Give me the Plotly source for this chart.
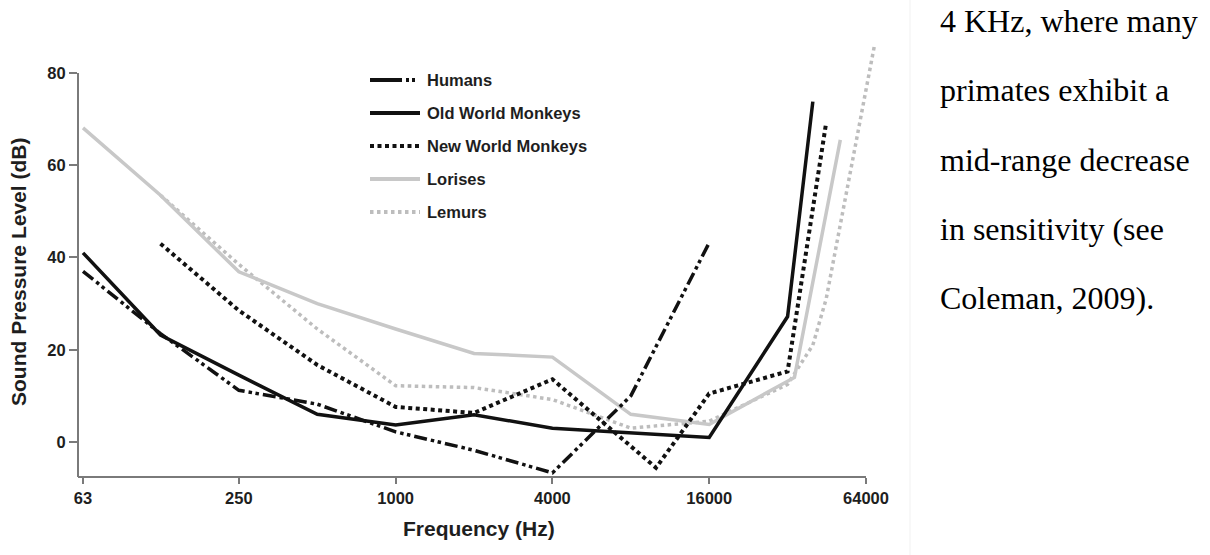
import plotly.graph_objects as go
import math

# ---------------- data ----------------
series_names = ["Humans", "Old World Monkeys", "New World Monkeys", "Lorises", "Lemurs"]

humans_hz = [63, 125, 250, 500, 1000, 2000, 4000, 8000, 16000]
humans_db = [37, 23.5, 11.2, 8.2, 2.2, -1.8, -6.7, 10, 43.2]

old_world_hz = [63, 125, 250, 500, 1000, 2000, 4000, 8000, 16000, 32000, 40000]
old_world_db = [41, 23.2, 14.5, 6.0, 3.7, 5.9, 3.0, 2.0, 1.0, 27.2, 73.8]

new_world_hz = [125, 250, 500, 1000, 2000, 4000, 10000, 16000, 32000, 45000]
new_world_db = [43, 28.5, 16.7, 7.6, 6.3, 13.6, -5.6, 10.5, 15.3, 69.2]

lorises_hz = [63, 125, 250, 500, 1000, 2000, 4000, 8000, 16000, 34000, 51000]
lorises_db = [68.1, 53.5, 36.9, 30, 24.5, 19.2, 18.4, 6.0, 3.8, 14, 65.5]

lemurs_hz = [125, 250, 500, 1000, 2000, 4000, 8000, 16000, 32000, 40000, 45000, 69000]
lemurs_db = [53.5, 38.5, 24.5, 12.2, 11.8, 9.2, 3.0, 4.5, 12.5, 21, 31, 86]

x_tick_vals = [63, 250, 1000, 4000, 16000, 64000]
x_tick_text = ["63", "250", "1000", "4000", "16000", "64000"]
y_tick_vals = [0, 20, 40, 60, 80]

x_title = "Frequency (Hz)"
y_title = "Sound Pressure Level (dB)"

note_lines = [
    "4 KHz, where many",
    "primates exhibit a",
    "mid-range decrease",
    "in sensitivity (see",
    "Coleman, 2009).",
]

# ---------------- styles ----------------
styles = [
    dict(color="#111111", width=3.5, dash="13px,4px,3.5px,3.5px,3.5px,4px"),
    dict(color="#111111", width=3.5, dash="solid"),
    dict(color="#111111", width=4, dash="4px,3.5px"),
    dict(color="#c8c8c8", width=3.5, dash="solid"),
    dict(color="#bdbdbd", width=3.5, dash="3.5px,3.5px"),
]
legend_dash = [
    "32px,4px,3px,3px,3px,30px",
    "solid",
    "4px,3.5px",
    "solid",
    "3.5px,3.5px",
]

W, H = 1210, 555
L, R, T, B = 78, 325, 40, 78
PW, PH = W - L - R, H - T - B

def fx(px):
    return (px - L) / PW

def fy(py):
    return (T + PH - py) / PH

x_range = [1.7801, 4.8792]
y_range = [-7.59, 87.15]

sans = "Liberation Sans, Arial, Helvetica, sans-serif"
serif = "Liberation Serif, Times New Roman, serif"
txt_color = "#1e1e1e"
axis_color = "#7a7a7a"

fig = go.Figure()
all_x = [humans_hz, old_world_hz, new_world_hz, lorises_hz, lemurs_hz]
all_y = [humans_db, old_world_db, new_world_db, lorises_db, lemurs_db]
order = [4, 3, 2, 1, 0]
for i in order:
    fig.add_trace(go.Scatter(
        x=all_x[i], y=all_y[i], mode="lines", name=series_names[i],
        line=styles[i], showlegend=False, hoverinfo="skip",
    ))

x_end_frac = (math.log10(x_tick_vals[-1]) - x_range[0]) / (x_range[1] - x_range[0])
y_top_frac = (y_tick_vals[-1] - y_range[0]) / (y_range[1] - y_range[0])

shapes = [
    dict(type="line", xref="paper", yref="paper", x0=0, x1=x_end_frac, y0=0, y1=0,
         line=dict(color=axis_color, width=2)),
    dict(type="line", xref="paper", yref="paper", x0=0, x1=0, y0=0, y1=y_top_frac,
         line=dict(color=axis_color, width=2)),
    dict(type="line", xref="paper", yref="paper", x0=fx(910), x1=fx(910), y0=fy(0), y1=fy(555),
         line=dict(color="#f1f1f1", width=1)),
]

annotations = []
row_y = [80, 113, 146, 179, 212]
for i, name in enumerate(series_names):
    shapes.append(dict(type="line", xref="paper", yref="paper",
                       x0=fx(370), x1=fx(420), y0=fy(row_y[i]), y1=fy(row_y[i]),
                       line=dict(color=styles[i]["color"], width=4, dash=legend_dash[i])))
    annotations.append(dict(text=name, xref="paper", yref="paper", x=fx(425), y=fy(row_y[i]),
                            xanchor="left", yanchor="middle", showarrow=False,
                            font=dict(family=sans, size=16.5, color=txt_color, weight="bold")))

annotations.append(dict(text=x_title, xref="paper", yref="paper", x=fx(479), y=fy(528),
                        xanchor="center", yanchor="middle", showarrow=False,
                        font=dict(family=sans, size=21, color=txt_color, weight="bold")))
annotations.append(dict(text=y_title, xref="paper", yref="paper", x=fx(18), y=fy(272),
                        xanchor="center", yanchor="middle", showarrow=False, textangle=-90,
                        font=dict(family=sans, size=21, color=txt_color, weight="bold")))

base_y = [32, 101, 171, 240, 309]
for i, line in enumerate(note_lines):
    annotations.append(dict(text=line, xref="paper", yref="paper", x=fx(938), y=fy(base_y[i] - 11),
                            xanchor="left", yanchor="middle", showarrow=False,
                            font=dict(family=serif, size=32, color="#000000")))

fig.update_layout(
    width=W, height=H,
    margin=dict(l=L, r=R, t=T, b=B, pad=0),
    paper_bgcolor="white", plot_bgcolor="white",
    showlegend=False,
    xaxis=dict(type="log", range=x_range, tickvals=x_tick_vals, ticktext=x_tick_text,
               ticks="outside", ticklen=6, tickwidth=2, tickcolor=axis_color,
               showgrid=False, zeroline=False, showline=False,
               tickfont=dict(family=sans, size=16.5, color=txt_color, weight="bold")),
    yaxis=dict(range=y_range, tickvals=y_tick_vals,
               ticks="outside", ticklen=8, tickwidth=2, tickcolor=axis_color,
               showgrid=False, zeroline=False, showline=False,
               tickfont=dict(family=sans, size=16.5, color=txt_color, weight="bold")),
    shapes=shapes,
    annotations=annotations,
)

fig.write_html("out.html")
